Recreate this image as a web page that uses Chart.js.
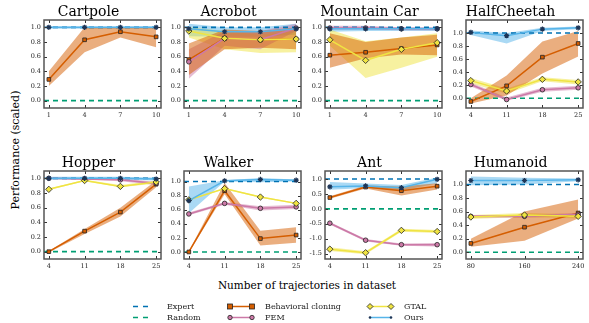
<!DOCTYPE html>
<html>
<head>
<meta charset="utf-8">
<script src="https://cdn.jsdelivr.net/npm/chart.js@4.4.1/dist/chart.umd.min.js"></script>
<style>
  body { margin: 0; background: #fff; width: 589px; height: 323px; position: relative; overflow: hidden; font-family: "DejaVu Serif", serif; }
  canvas { position: absolute; }
  .lbl { position: absolute; color: #000; white-space: nowrap; }
  .leg { position: absolute; font-size: 8px; line-height: 10px; color: #222; white-space: nowrap; }
  svg { position: absolute; overflow: visible; }
</style>
</head>
<body>
<div class="lbl" style="left:15px;top:150px;font-size:11px;transform:translate(-50%,-50%) rotate(-90deg);">Performance (scaled)</div>
<div class="lbl" style="left:307px;top:285px;font-size:10.5px;transform:translate(-50%,-50%);">Number of trajectories in dataset</div>

<script>
// scaled performance
const expertLevel = 1.0;
const randomLevel = 0.0;
const ticks01 = [0, 0.2, 0.4, 0.6, 0.8, 1.0];
const ticksAnt = [-1.5, -1.0, -0.5, 0, 0.5, 1.0];

const cartpoleX = [1, 4, 7, 10];
const cartpoleBC = [0.29, 0.83, 0.94, 0.87];
const cartpoleBCLo = [0.20, 0.66, 0.86, 0.73];
const cartpoleBCHi = [0.40, 1.0, 1.0, 1.0];
const cartpoleOurs = [1.0, 1.0, 1.0, 1.0];
const cartpoleOursLo = [0.98, 0.98, 0.98, 0.98];
const cartpoleOursHi = [1.01, 1.01, 1.01, 1.01];

const acrobotX = [1, 4, 7, 10];
const acrobotBC = [0.56, 0.85, 0.83, 0.84];
const acrobotBCLo = [0.35, 0.70, 0.72, 0.70];
const acrobotBCHi = [0.78, 0.97, 0.95, 1.0];
const acrobotFEM = [0.53, 0.85, 0.83, 0.99];
const acrobotFEMLo = [0.30, 0.75, 0.70, 0.95];
const acrobotFEMHi = [0.70, 0.95, 0.95, 1.05];
const acrobotGTAL = [0.95, 0.85, 0.83, 0.84];
const acrobotGTALLo = [0.86, 0.70, 0.65, 0.66];
const acrobotGTALHi = [1.0, 0.95, 0.90, 0.95];
const acrobotOurs = [0.98, 0.94, 0.94, 0.98];
const acrobotOursLo = [0.88, 0.87, 0.87, 0.90];
const acrobotOursHi = [1.05, 1.0, 1.0, 1.05];

const mountainX = [1, 4, 7, 10];
const mountainBC = [0.62, 0.66, 0.71, 0.76];
const mountainBCLo = [0.45, 0.58, 0.63, 0.62];
const mountainBCHi = [0.92, 0.80, 0.86, 0.90];
const mountainFEM = [0.99, 0.99, 0.98, 0.98];
const mountainFEMLo = [0.97, 0.97, 0.96, 0.96];
const mountainFEMHi = [1.02, 1.02, 1.0, 1.0];
const mountainGTAL = [0.83, 0.55, 0.70, 0.79];
const mountainGTALLo = [0.75, 0.31, 0.45, 0.60];
const mountainGTALHi = [0.97, 0.81, 0.86, 0.92];
const mountainOurs = [0.98, 0.98, 0.98, 0.98];
const mountainOursLo = [0.94, 0.95, 0.95, 0.95];
const mountainOursHi = [1.0, 1.0, 1.0, 1.0];

const cheetahX = [4, 11, 18, 25];
const cheetahBC = [-0.05, 0.19, 0.63, 0.84];
const cheetahBCLo = [-0.08, 0.04, 0.38, 0.64];
const cheetahBCHi = [0.0, 0.35, 0.87, 1.03];
const cheetahFEM = [0.21, -0.02, 0.13, 0.16];
const cheetahFEMLo = [0.18, -0.04, 0.10, 0.13];
const cheetahFEMHi = [0.24, 0.01, 0.16, 0.19];
const cheetahGTAL = [0.27, 0.11, 0.29, 0.25];
const cheetahGTALLo = [0.23, 0.07, 0.26, 0.21];
const cheetahGTALHi = [0.31, 0.15, 0.32, 0.28];
const cheetahOurs = [1.01, 0.96, 1.06, 1.08];
const cheetahOursLo = [0.97, 0.84, 1.03, 1.06];
const cheetahOursHi = [1.04, 1.0, 1.08, 1.10];

const hopperX = [4, 11, 18, 25];
const hopperBC = [0.0, 0.28, 0.54, 0.92];
const hopperBCLo = [-0.01, 0.24, 0.48, 0.88];
const hopperBCHi = [0.01, 0.31, 0.60, 0.97];
const hopperFEM = [1.0, 0.99, 0.98, 0.93];
const hopperFEMLo = [0.99, 0.98, 0.96, 0.91];
const hopperFEMHi = [1.01, 1.0, 1.0, 0.95];
const hopperGTAL = [0.85, 0.97, 0.89, 0.95];
const hopperGTALLo = [0.84, 0.96, 0.88, 0.93];
const hopperGTALHi = [0.86, 0.98, 0.91, 0.97];
const hopperOurs = [1.0, 1.0, 1.0, 0.99];
const hopperOursLo = [0.98, 0.98, 0.98, 0.97];
const hopperOursHi = [1.02, 1.02, 1.02, 1.01];

const walkerX = [4, 11, 18, 25];
const walkerBC = [0.0, 0.87, 0.19, 0.24];
const walkerBCLo = [-0.01, 0.82, 0.09, 0.13];
const walkerBCHi = [0.01, 0.98, 0.30, 0.35];
const walkerFEM = [0.54, 0.69, 0.62, 0.64];
const walkerFEMLo = [0.52, 0.67, 0.59, 0.61];
const walkerFEMHi = [0.56, 0.71, 0.65, 0.67];
const walkerGTAL = [0.74, 0.90, 0.78, 0.69];
const walkerGTALLo = [0.73, 0.89, 0.77, 0.68];
const walkerGTALHi = [0.75, 0.91, 0.79, 0.70];
const walkerOurs = [0.73, 1.01, 1.03, 1.02];
const walkerOursLo = [0.55, 1.0, 0.99, 1.0];
const walkerOursHi = [0.93, 1.02, 1.05, 1.03];

const antX = [4, 11, 18, 25];
const antBC = [0.38, 0.73, 0.61, 0.76];
const antBCLo = [0.34, 0.68, 0.45, 0.65];
const antBCHi = [0.42, 0.78, 0.75, 0.86];
const antFEM = [-0.48, -1.05, -1.2, -1.2];
const antFEMLo = [-0.52, -1.09, -1.24, -1.26];
const antFEMHi = [-0.44, -1.01, -1.16, -1.14];
const antGTAL = [-1.35, -1.47, -0.72, -0.76];
const antGTALLo = [-1.41, -1.52, -0.77, -0.81];
const antGTALHi = [-1.29, -1.42, -0.67, -0.71];
const antOurs = [0.74, 0.77, 0.71, 0.99];
const antOursLo = [0.64, 0.70, 0.62, 0.85];
const antOursHi = [0.90, 0.85, 0.80, 1.05];

const humanoidX = [80, 160, 240];
const humanoidBC = [0.13, 0.37, 0.58];
const humanoidBCLo = [0.08, 0.17, 0.50];
const humanoidBCHi = [0.20, 0.60, 0.78];
const humanoidFEM = [0.53, 0.53, 0.56];
const humanoidFEMLo = [0.51, 0.51, 0.54];
const humanoidFEMHi = [0.55, 0.55, 0.58];
const humanoidGTAL = [0.52, 0.55, 0.53];
const humanoidGTALLo = [0.49, 0.52, 0.50];
const humanoidGTALHi = [0.55, 0.58, 0.56];
const humanoidOurs = [1.06, 1.06, 1.07];
const humanoidOursLo = [0.99, 1.0, 1.05];
const humanoidOursHi = [1.12, 1.1, 1.09];

// method styles
const METHODS = {
  bc:   { color: '#D55E00', fill: 'rgba(213,94,0,0.5)',   point: 'rect',    r: 2.6 },
  fem:  { color: '#CC79A7', fill: 'rgba(204,121,167,0.5)', point: 'circle',  r: 2.3 },
  gtal: { color: '#F0E442', fill: 'rgba(240,228,66,0.5)',  point: 'rectRot', r: 3.2 },
  ours: { color: '#56B4E9', fill: 'rgba(86,180,233,0.5)',  point: 'star',    r: 2.6 },
};

const panels = [
  { title: 'Cartpole', x: cartpoleX, y: [-0.1, 1.1], ticks: ticks01, left: 44, top: 20,
    series: { bc: [cartpoleBC, cartpoleBCLo, cartpoleBCHi], ours: [cartpoleOurs, cartpoleOursLo, cartpoleOursHi] } },
  { title: 'Acrobot', x: acrobotX, y: [-0.1, 1.1], ticks: ticks01, left: 184, top: 20,
    series: { bc: [acrobotBC, acrobotBCLo, acrobotBCHi], fem: [acrobotFEM, acrobotFEMLo, acrobotFEMHi],
              gtal: [acrobotGTAL, acrobotGTALLo, acrobotGTALHi], ours: [acrobotOurs, acrobotOursLo, acrobotOursHi] } },
  { title: 'Mountain Car', x: mountainX, y: [-0.1, 1.1], ticks: ticks01, left: 325, top: 20,
    series: { bc: [mountainBC, mountainBCLo, mountainBCHi], fem: [mountainFEM, mountainFEMLo, mountainFEMHi],
              gtal: [mountainGTAL, mountainGTALLo, mountainGTALHi], ours: [mountainOurs, mountainOursLo, mountainOursHi] } },
  { title: 'HalfCheetah', x: cheetahX, y: [-0.15, 1.2], ticks: ticks01, left: 466, top: 20,
    series: { bc: [cheetahBC, cheetahBCLo, cheetahBCHi], fem: [cheetahFEM, cheetahFEMLo, cheetahFEMHi],
              gtal: [cheetahGTAL, cheetahGTALLo, cheetahGTALHi], ours: [cheetahOurs, cheetahOursLo, cheetahOursHi] } },
  { title: 'Hopper', x: hopperX, y: [-0.1, 1.1], ticks: ticks01, left: 44, top: 171,
    series: { bc: [hopperBC, hopperBCLo, hopperBCHi], fem: [hopperFEM, hopperFEMLo, hopperFEMHi],
              gtal: [hopperGTAL, hopperGTALLo, hopperGTALHi], ours: [hopperOurs, hopperOursLo, hopperOursHi] } },
  { title: 'Walker', x: walkerX, y: [-0.1, 1.15], ticks: ticks01, left: 184, top: 171,
    series: { bc: [walkerBC, walkerBCLo, walkerBCHi], fem: [walkerFEM, walkerFEMLo, walkerFEMHi],
              gtal: [walkerGTAL, walkerGTALLo, walkerGTALHi], ours: [walkerOurs, walkerOursLo, walkerOursHi] } },
  { title: 'Ant', x: antX, y: [-1.68, 1.27], ticks: ticksAnt, left: 325, top: 171,
    series: { bc: [antBC, antBCLo, antBCHi], fem: [antFEM, antFEMLo, antFEMHi],
              gtal: [antGTAL, antGTALLo, antGTALHi], ours: [antOurs, antOursLo, antOursHi] } },
  { title: 'Humanoid', x: humanoidX, y: [-0.1, 1.2], ticks: ticks01, left: 466, top: 171,
    series: { bc: [humanoidBC, humanoidBCLo, humanoidBCHi], fem: [humanoidFEM, humanoidFEMLo, humanoidFEMHi],
              gtal: [humanoidGTAL, humanoidGTALLo, humanoidGTALHi], ours: [humanoidOurs, humanoidOursLo, humanoidOursHi] } },
];

// box + inward ticks like matplotlib
const framePlugin = {
  id: 'frame',
  afterDraw(chart) {
    const { ctx, chartArea: a, scales: { x, y } } = chart;
    ctx.save();
    ctx.strokeStyle = '#333';
    ctx.lineWidth = 1;
    ctx.beginPath();
    x.ticks.forEach(t => {
      const p = Math.round(x.getPixelForValue(t.value)) + 0.5;
      ctx.moveTo(p, a.bottom); ctx.lineTo(p, a.bottom - 3);
      ctx.moveTo(p, a.top); ctx.lineTo(p, a.top + 3);
    });
    y.ticks.forEach(t => {
      const p = Math.round(y.getPixelForValue(t.value)) + 0.5;
      ctx.moveTo(a.left, p); ctx.lineTo(a.left + 3, p);
      ctx.moveTo(a.right, p); ctx.lineTo(a.right - 3, p);
    });
    ctx.stroke();
    ctx.strokeStyle = '#555';
    ctx.lineWidth = 1.5;
    ctx.strokeRect(a.left, a.top, a.width, a.height);
    ctx.restore();
  }
};

const FRAME_W = 117, FRAME_H = 88, Y_W = 28, PAD_R = 8, PAD_T = 5, TITLE_H = 15, X_H = 12, PAD_B = 2;

panels.forEach(p => {
  const pad = (p.x[p.x.length - 1] - p.x[0]) * 0.045;
  const xMin = p.x[0] - pad, xMax = p.x[p.x.length - 1] + pad;
  const pts = ys => p.x.map((v, i) => ({ x: v, y: ys[i] }));
  const datasets = [];
  // lines on top: ours, gtal, fem, bc
  ['ours', 'gtal', 'fem', 'bc'].forEach((k, i) => {
    if (!p.series[k]) return;
    const m = METHODS[k];
    datasets.push({
      data: pts(p.series[k][0]), borderColor: m.color, borderWidth: 1.5,
      pointStyle: m.point, pointRadius: m.r,
      pointBackgroundColor: m.color,
      pointBorderColor: k === 'ours' ? '#1d3557' : '#222',
      pointBorderWidth: k === 'ours' ? 1.2 : 0.8,
      fill: false, order: 1 + i,
    });
  });
  datasets.push({ data: [{ x: xMin, y: expertLevel }, { x: xMax, y: expertLevel }], borderColor: '#0072B2',
    borderWidth: 1.6, borderDash: [5, 4], pointRadius: 0, fill: false, order: 6 });
  datasets.push({ data: [{ x: xMin, y: randomLevel }, { x: xMax, y: randomLevel }], borderColor: '#009E73',
    borderWidth: 1.6, borderDash: [5, 4], pointRadius: 0, fill: false, order: 7 });
  // std bands
  ['bc', 'fem', 'gtal', 'ours'].forEach((k, i) => {
    if (!p.series[k]) return;
    const m = METHODS[k];
    datasets.push({ data: pts(p.series[k][2]), borderWidth: 0, pointRadius: 0, fill: '+1',
      backgroundColor: m.fill, order: 10 + i });
    datasets.push({ data: pts(p.series[k][1]), borderWidth: 0, pointRadius: 0, fill: false, order: 10 + i });
  });

  const canvas = document.createElement('canvas');
  canvas.width = Y_W + FRAME_W + PAD_R;
  canvas.height = PAD_T + TITLE_H + FRAME_H + X_H + PAD_B;
  canvas.style.left = (p.left - Y_W) + 'px';
  canvas.style.top = (p.top - PAD_T - TITLE_H) + 'px';
  document.body.appendChild(canvas);

  const tickFont = { family: 'DejaVu Serif', size: 6.5 };
  new Chart(canvas, {
    type: 'line',
    data: { datasets },
    plugins: [framePlugin],
    options: {
      responsive: false,
      animation: false,
      layout: { padding: { top: PAD_T, right: PAD_R, bottom: PAD_B, left: 0 } },
      plugins: {
        legend: { display: false },
        tooltip: { enabled: false },
        title: { display: true, text: p.title, color: '#000',
          font: { family: 'DejaVu Serif', size: 14, weight: 'normal', lineHeight: 1 },
          padding: { top: 0, bottom: 1 } },
      },
      scales: {
        x: {
          type: 'linear', min: xMin, max: xMax,
          grid: { display: false, drawTicks: false }, border: { display: false },
          afterBuildTicks: s => { s.ticks = p.x.map(v => ({ value: v })); },
          afterFit: s => { s.height = X_H; },
          ticks: { font: tickFont, color: '#222', padding: 3, maxRotation: 0, callback: v => String(v) },
        },
        y: {
          min: p.y[0], max: p.y[1],
          grid: { display: false, drawTicks: false }, border: { display: false },
          afterBuildTicks: s => { s.ticks = p.ticks.map(v => ({ value: v })); },
          afterFit: s => { s.width = Y_W; },
          ticks: { font: tickFont, color: '#222', padding: 3, callback: v => v.toFixed(1) },
        },
      },
    },
  });
});
</script>

<!-- legend -->
<svg style="left:0;top:0" width="589" height="323">
  <line x1="133" y1="306.5" x2="148" y2="306.5" stroke="#0072B2" stroke-width="1.6" stroke-dasharray="5,5"/>
  <line x1="133" y1="317.5" x2="148" y2="317.5" stroke="#009E73" stroke-width="1.6" stroke-dasharray="5,5"/>
  <line x1="230" y1="306.5" x2="252" y2="306.5" stroke="#D55E00" stroke-width="1.5"/>
  <rect x="227.5" y="304" width="5" height="5" fill="#D55E00" stroke="#222" stroke-width="0.8"/>
  <rect x="249.5" y="304" width="5" height="5" fill="#D55E00" stroke="#222" stroke-width="0.8"/>
  <line x1="230" y1="317.5" x2="252" y2="317.5" stroke="#CC79A7" stroke-width="1.5"/>
  <circle cx="230" cy="317.5" r="2.2" fill="#CC79A7" stroke="#222" stroke-width="0.8"/>
  <circle cx="252" cy="317.5" r="2.2" fill="#CC79A7" stroke="#222" stroke-width="0.8"/>
  <line x1="370" y1="306.5" x2="391" y2="306.5" stroke="#F0E442" stroke-width="1.5"/>
  <polygon points="370,303.5 373,306.5 370,309.5 367,306.5" fill="#F0E442" stroke="#222" stroke-width="0.8"/>
  <polygon points="391,303.5 394,306.5 391,309.5 388,306.5" fill="#F0E442" stroke="#222" stroke-width="0.8"/>
  <line x1="370" y1="317.5" x2="391" y2="317.5" stroke="#56B4E9" stroke-width="1.5"/>
  <circle cx="370" cy="317.5" r="1.3" fill="#1d3557"/>
  <circle cx="391" cy="317.5" r="1.3" fill="#1d3557"/>
</svg>
<div class="leg" style="left:167px;top:301.5px">Expert</div>
<div class="leg" style="left:167px;top:312.5px">Random</div>
<div class="leg" style="left:265px;top:301.5px">Behavioral cloning</div>
<div class="leg" style="left:265px;top:312.5px">FEM</div>
<div class="leg" style="left:404px;top:301.5px">GTAL</div>
<div class="leg" style="left:404px;top:312.5px">Ours</div>
</body>
</html>
